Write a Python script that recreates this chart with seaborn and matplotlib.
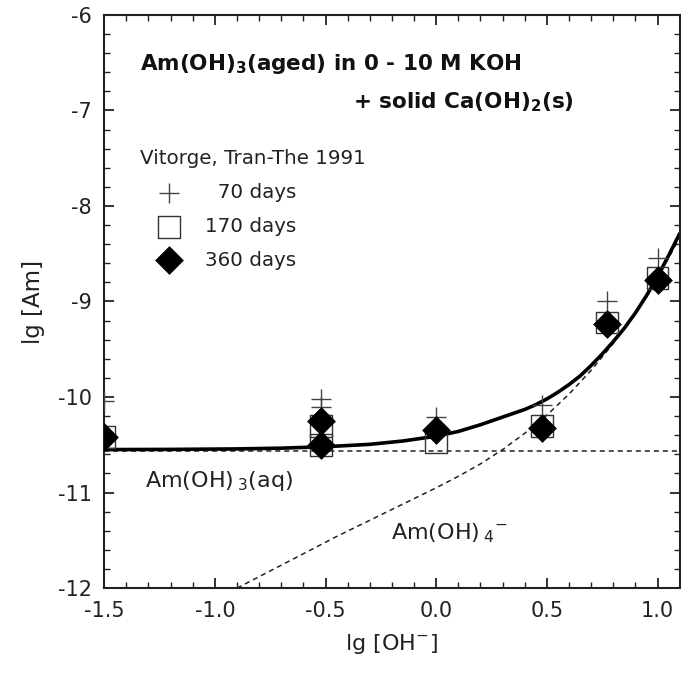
import matplotlib
matplotlib.use("Agg")
import matplotlib.pyplot as plt
from matplotlib.ticker import MultipleLocator, FuncFormatter
import seaborn as sns

# -----------------------------
# DATA
# -----------------------------
# measured points, lg [OH-] vs lg [Am]
x_70 = [-1.5, -0.52, -0.52, 0.0, 0.48, 0.77, 1.0]
y_70 = [-10.04, -10.02, -10.10, -10.21, -10.08, -9.0, -8.54]

x_170 = [-1.5, -0.52, -0.52, 0.0, 0.48, 0.77, 1.0]
y_170 = [-10.42, -10.30, -10.50, -10.47, -10.30, -9.22, -8.75]

x_360 = [-1.5, -0.52, -0.52, 0.0, 0.48, 0.77, 1.0]
y_360 = [-10.42, -10.25, -10.50, -10.34, -10.32, -9.24, -8.77]

# model curves
x_total = [-1.5, -1.2, -0.9, -0.7, -0.5, -0.3, -0.15, 0.0, 0.1, 0.2, 0.3,
           0.4, 0.45, 0.5, 0.55, 0.6, 0.65, 0.7, 0.75, 0.8, 0.85, 0.9, 0.95,
           1.0, 1.05, 1.1]
y_total = [-10.55, -10.548, -10.543, -10.535, -10.52, -10.495, -10.46, -10.41,
           -10.36, -10.29, -10.21, -10.13, -10.08, -10.02, -9.95, -9.87, -9.78,
           -9.67, -9.55, -9.42, -9.28, -9.12, -8.94, -8.74, -8.52, -8.29]

x_aq = [-1.5, 1.1]
y_aq = [-10.56, -10.56]

x_am4 = [-0.9, -0.75, -0.6, -0.45, -0.3, -0.15, 0.0, 0.1, 0.2, 0.3, 0.4, 0.5,
         0.6, 0.7, 0.8, 0.9, 1.0, 1.1]
y_am4 = [-12.0, -11.82, -11.64, -11.46, -11.29, -11.12, -10.95, -10.83, -10.70,
         -10.55, -10.38, -10.19, -9.97, -9.72, -9.44, -9.12, -8.76, -8.33]

# -----------------------------
# STYLE
# -----------------------------
sns.set_theme(style="ticks")
plt.rcParams["font.family"] = ["DejaVu Sans"]
plt.rcParams["mathtext.default"] = "regular"
plt.rcParams["axes.unicode_minus"] = False

fig = plt.figure(figsize=(6.81, 6.76), dpi=100)
ax = fig.add_axes([0.153, 0.130, 0.845, 0.848])

# -----------------------------
# CURVES
# -----------------------------
dash = (0, (3.3, 2.6))
sns.lineplot(x=x_aq, y=y_aq, ax=ax, color="#222222", lw=1.1,
             linestyle=dash, sort=False, estimator=None)
sns.lineplot(x=x_am4, y=y_am4, ax=ax, color="#222222", lw=1.1,
             linestyle=dash, sort=False, estimator=None)
sns.lineplot(x=x_total, y=y_total, ax=ax, color="black", lw=2.6,
             sort=False, estimator=None)

# -----------------------------
# POINTS
# -----------------------------
sns.scatterplot(x=x_70, y=y_70, ax=ax, marker="+", s=220, color="#444444",
                linewidth=1.0, label="  70 days", zorder=3)
sns.scatterplot(x=x_170, y=y_170, ax=ax, marker="s", s=250, facecolor="none",
                edgecolor="#333333", linewidth=1.0, label="170 days", zorder=3)
sns.scatterplot(x=x_360, y=y_360, ax=ax, marker="D", s=200, color="black",
                edgecolor="black", linewidth=0.5, label="360 days", zorder=4)

# -----------------------------
# AXES
# -----------------------------
ax.set_xlim(-1.5, 1.1)
ax.set_ylim(-12, -6)
ax.xaxis.set_major_locator(MultipleLocator(0.5))
ax.xaxis.set_minor_locator(MultipleLocator(0.1))
ax.yaxis.set_major_locator(MultipleLocator(1))
ax.yaxis.set_minor_locator(MultipleLocator(0.2))
ax.xaxis.set_major_formatter(FuncFormatter(lambda v, p: f"{v:.1f}"))
ax.yaxis.set_major_formatter(FuncFormatter(lambda v, p: f"{v:.0f}"))

for s in ax.spines.values():
    s.set_visible(True)
    s.set_linewidth(1.5)
    s.set_color("#222222")
ax.tick_params(which="both", direction="in", top=True, right=True,
               color="#222222", labelsize=15, pad=9, labelcolor="#222222")
ax.tick_params(which="major", length=7, width=1.3)
ax.tick_params(which="minor", length=4, width=1.0)

ax.set_xlabel("lg [OH$^{-}$]", fontsize=16, labelpad=8, color="#222222")
ax.set_ylabel("lg [Am]", fontsize=16.5, labelpad=9, color="#222222")

# -----------------------------
# TEXT
# -----------------------------
ax.text(-1.338, -6.576, "Am(OH)$_3$(aged) in 0 - 10 M KOH", fontsize=15.5,
        fontweight="bold", va="baseline", ha="left", color="#111111")
ax.text(-0.378, -6.974, "+ solid Ca(OH)$_2$(s)", fontsize=15.5,
        fontweight="bold", va="baseline", ha="left", color="#111111")
ax.text(-1.315, -10.94, "Am(OH)$\\,_3$(aq)", fontsize=16, va="baseline",
        ha="left", color="#222222")
ax.text(-0.203, -11.49, "Am(OH)$\\,_4$$^{-}$", fontsize=16, va="baseline",
        ha="left", color="#222222")

leg = ax.legend(title="Vitorge, Tran-The 1991", loc="upper left",
                bbox_to_anchor=(0.0625, 0.766), frameon=False, fontsize=14.3,
                title_fontsize=14.3, borderpad=0, borderaxespad=0,
                handlelength=2.9, handletextpad=0.35, labelspacing=0.75,
                scatterpoints=1)
leg._legend_box.align = "left"
for t in leg.get_texts():
    t.set_color("#222222")
leg.get_title().set_color("#222222")

fig.savefig("out.png", dpi=100)
